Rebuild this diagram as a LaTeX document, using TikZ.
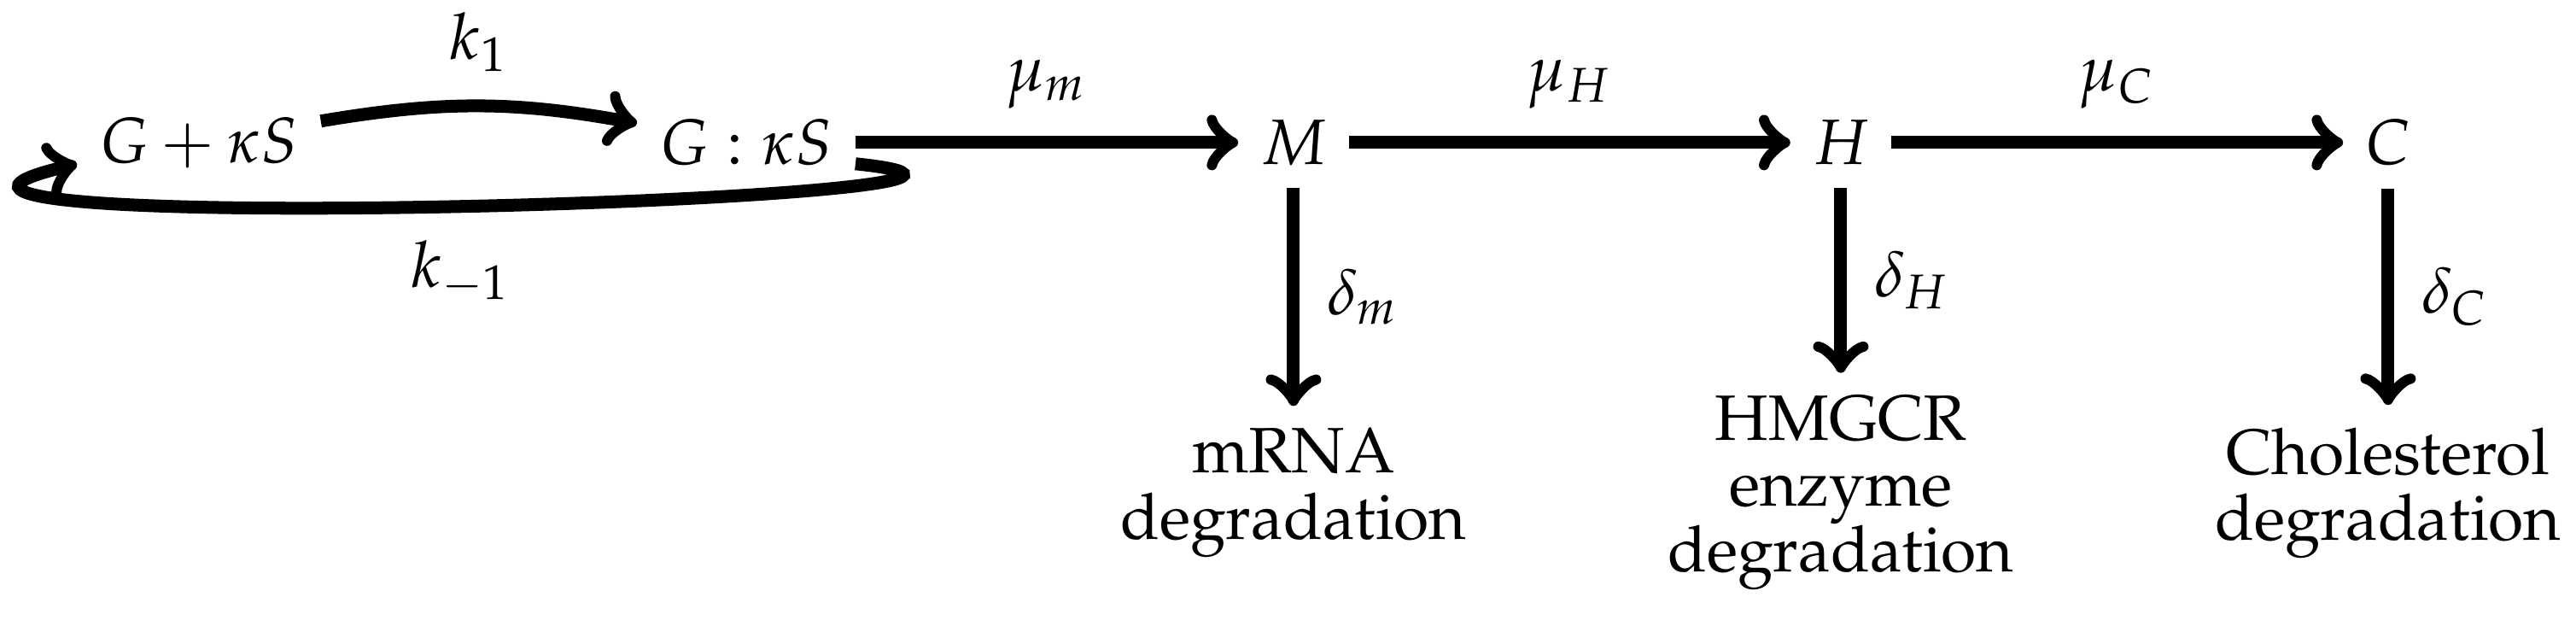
\documentclass[tikz,border=0pt]{standalone}
\usepackage[T1]{fontenc}
\usepackage{mathpazo}
\usepackage{tikz}
\tikzstyle{sink} = [align=center, font=\fontsize{10}{10.3}\selectfont]
\tikzstyle{arrow} = [line width=2pt,->]

\begin{document}
\begin{tikzpicture}[node distance=3cm]
    \useasboundingbox (-1.0905,-2.681) rectangle (13.03,0.781);
    \node (GS) {$G+\kappa S$};
    \node (GkS) [right of=GS] {$G:\kappa S$};
    \node (M) [right of=GkS] {$M$};
    \node (H) [right of=M] {$H$};
    \node (C) [right of=H] {$C$};
    \node (Mdeg) [sink, below of=M, node distance=1.92cm] {mRNA\\degradation};
    \node (Hdeg) [sink, below of=H, node distance=1.92cm] {HMGCR\\enzyme\\degradation};
    \node (Cdeg) [sink, below of=C, node distance=1.92cm] {Cholesterol\\degradation};

    \draw [arrow] (GS) to[bend left=10] node[above=1pt] {$k_1$} (GkS);
    \draw [arrow] (GkS.-11) to[out=-6, in=193, out looseness=1.08, in looseness=1.15] node[below=1pt] {$k_{-1}$} (GS.190);
    \draw [arrow] (GkS) -- node[above=1pt] {$\mu_m$} (M);
    \draw [arrow] (M) -- node[above=1pt] {$\mu_H$} (H);
    \draw [arrow] (H) -- node[above=1pt] {$\mu_C$} (C);
    \draw [arrow] (M) -- node[right=1pt] {$\delta_m$} (Mdeg);
    \draw [arrow] (H) -- node[right=1pt] {$\delta_H$} (Hdeg);
    \draw [arrow] (C) -- node[right=1pt] {$\delta_C$} (Cdeg);
\end{tikzpicture}
\end{document}
